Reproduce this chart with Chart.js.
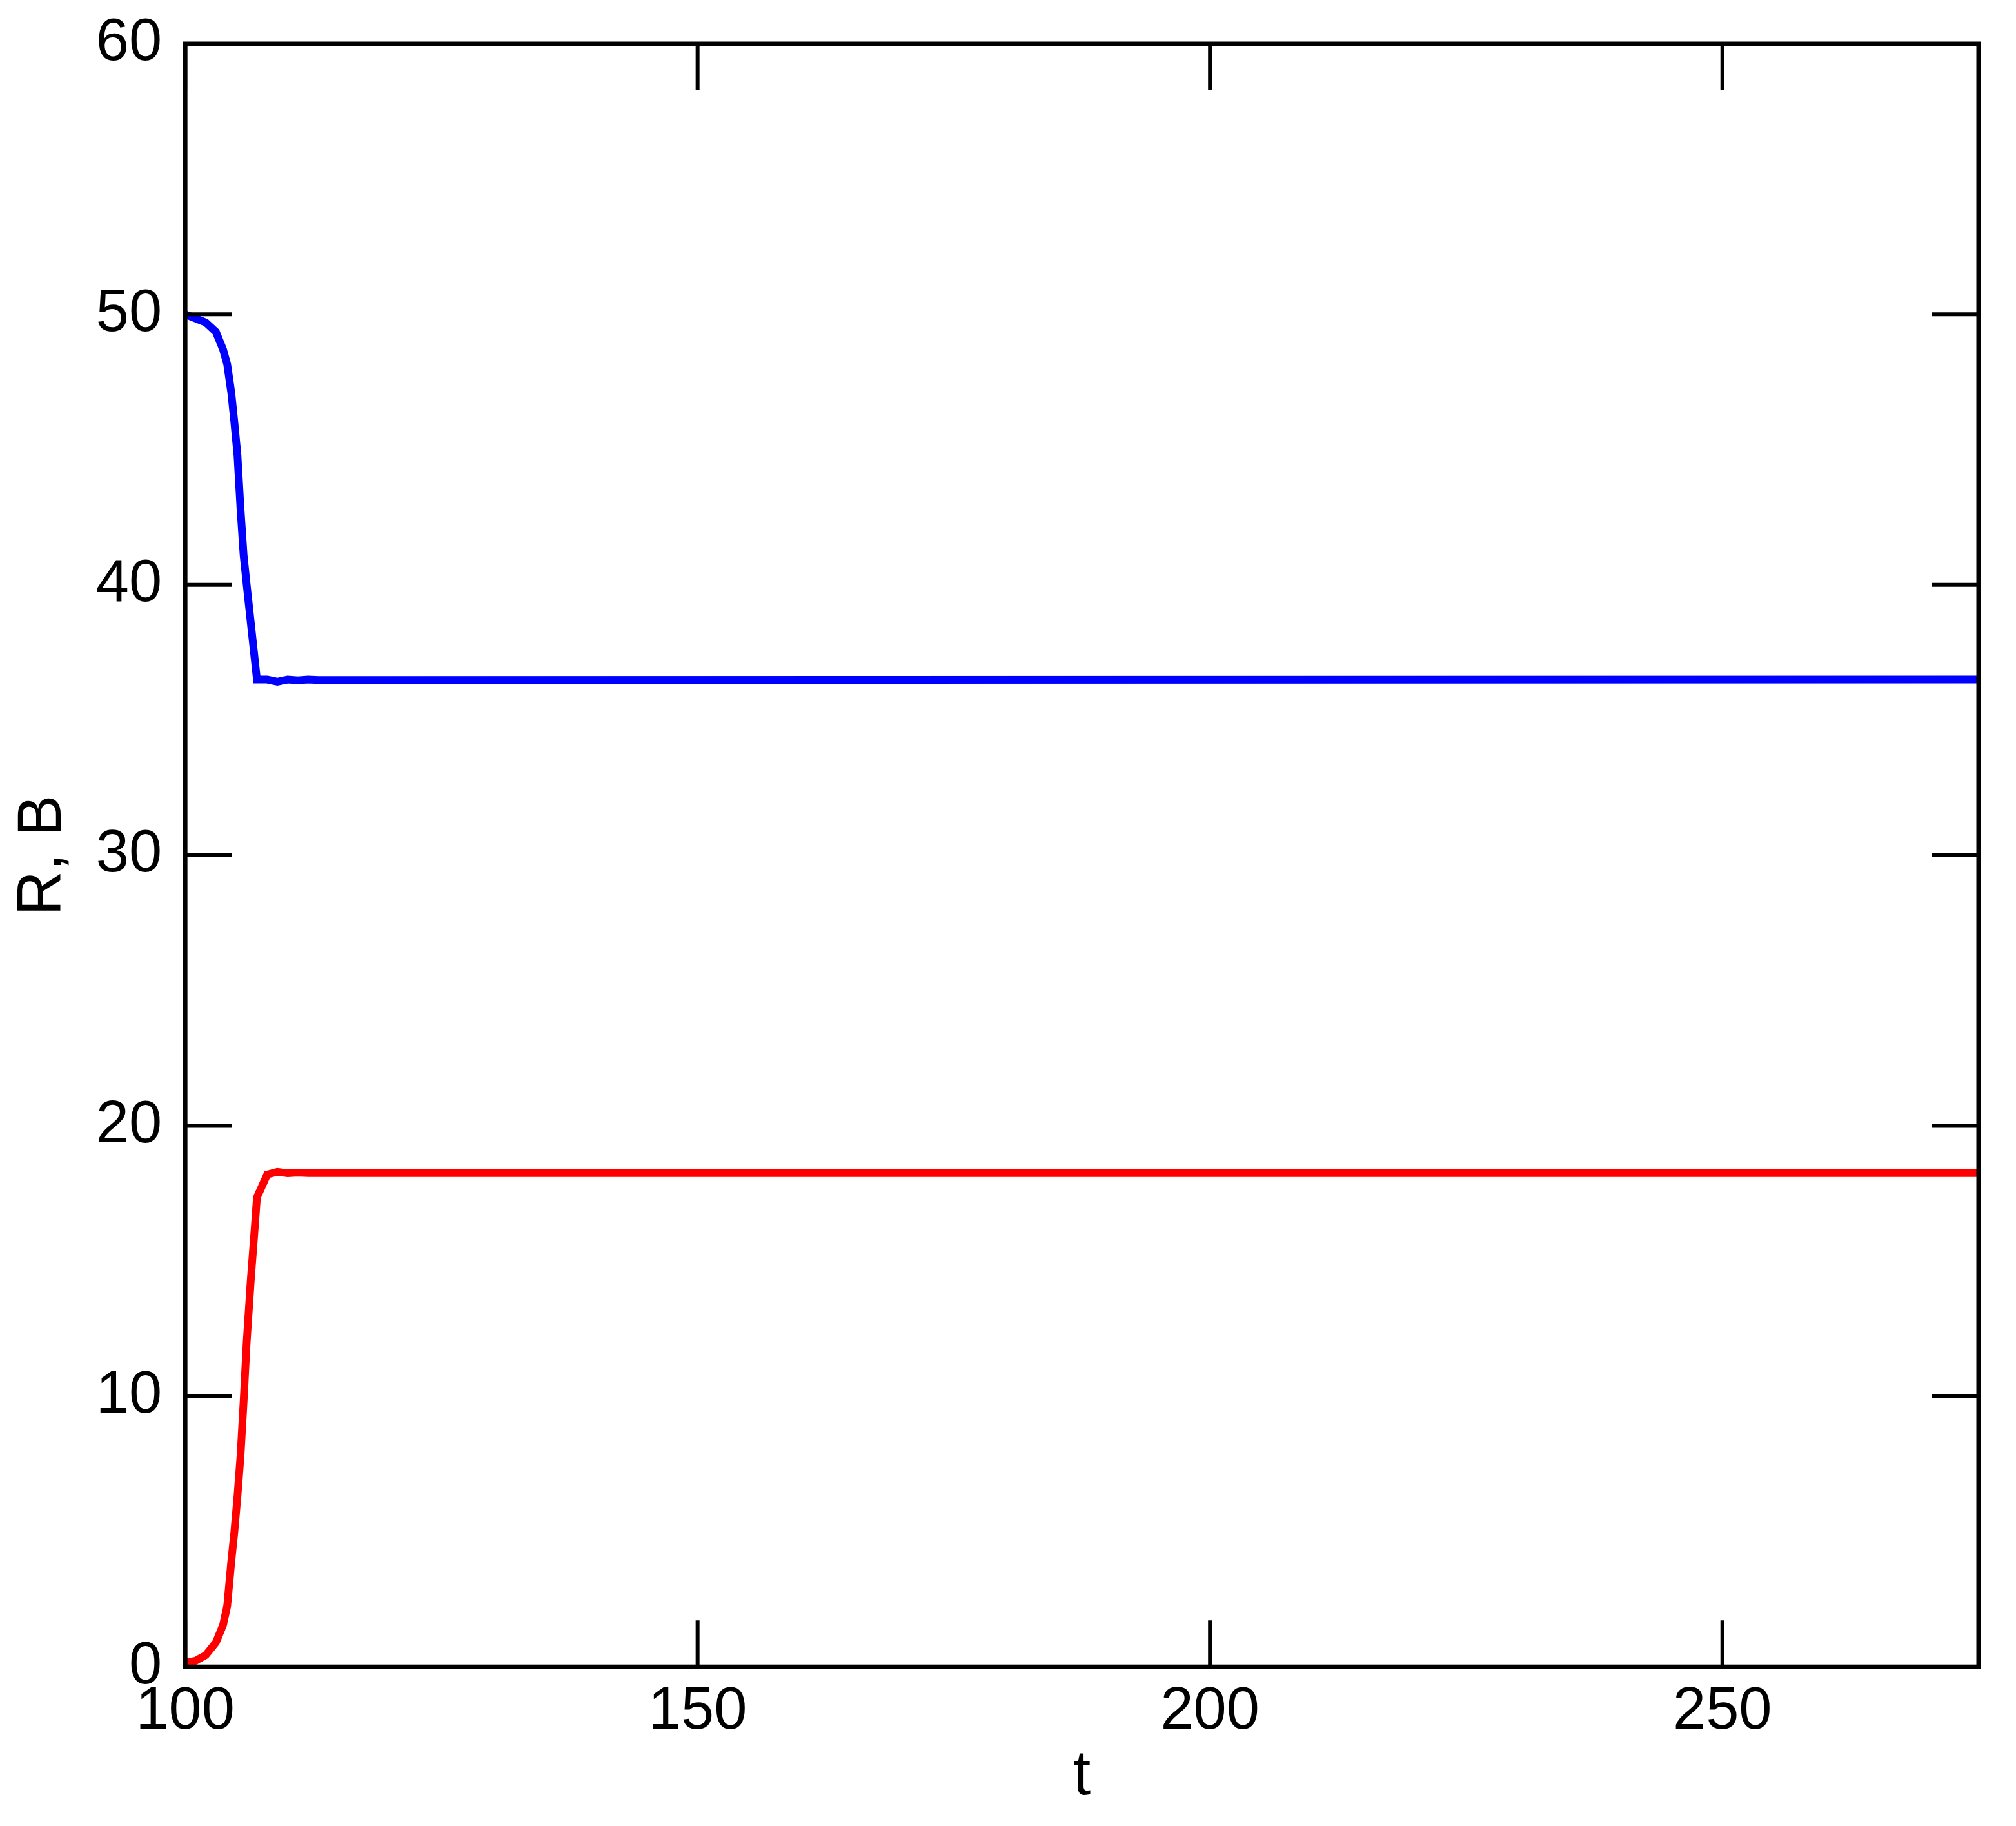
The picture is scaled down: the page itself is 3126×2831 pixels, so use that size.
<!DOCTYPE html>
<html>
<head>
<meta charset="utf-8">
<script src="https://cdn.jsdelivr.net/npm/chart.js@4"></script>
<style>
  html, body { margin: 0; padding: 0; background: #fff; }
  canvas { display: block; }
</style>
</head>
<body>
<canvas id="chart" width="3126" height="2831"></canvas>
<script>
// time points (t)
const tValues = [100, 101, 102, 103, 103.7, 104.1, 104.5, 104.8, 105.1, 105.4, 105.7, 106, 106.4, 106.8, 107, 108, 109, 110, 111, 112, 113, 275];
// B (blue) and R (red)
const bValues = [50.0, 49.85, 49.7, 49.35, 48.7, 48.15, 47.1, 46.0, 44.8, 42.8, 41.1, 40.0, 38.6, 37.2, 36.5, 36.5, 36.42, 36.5, 36.47, 36.5, 36.48, 36.5];
const rValues = [0.15, 0.22, 0.43, 0.9, 1.55, 2.25, 3.9, 5.0, 6.3, 7.8, 9.8, 12.0, 14.3, 16.3, 17.35, 18.2, 18.3, 18.25, 18.27, 18.25, 18.25, 18.25];

const xTicks = [100, 150, 200, 250];
const yTicks = [0, 10, 20, 30, 40, 50, 60];

const toPoints = (xs, ys) => xs.map((x, i) => ({x: x, y: ys[i]}));

// box round the plot + inward ticks on all four sides
const frameTicks = {
  id: 'frameTicks',
  afterDatasetsDraw(chart) {
    const {ctx, chartArea: {left, top, right, bottom}, scales: {x, y}} = chart;
    const len = 72;
    ctx.save();
    ctx.strokeStyle = '#000';
    ctx.lineWidth = 6;
    ctx.beginPath();
    x.ticks.forEach(t => {
      const px = x.getPixelForValue(t.value);
      ctx.moveTo(px, bottom); ctx.lineTo(px, bottom - len);
      ctx.moveTo(px, top); ctx.lineTo(px, top + len);
    });
    y.ticks.forEach(t => {
      const py = y.getPixelForValue(t.value);
      ctx.moveTo(left, py); ctx.lineTo(left + len, py);
      ctx.moveTo(right, py); ctx.lineTo(right - len, py);
    });
    ctx.stroke();
    ctx.lineWidth = 7;
    ctx.strokeRect(left, top, right - left, bottom - top);
    ctx.restore();
  }
};

Chart.defaults.color = '#000';
Chart.defaults.font.family = '"Liberation Sans", Arial, sans-serif';

new Chart(document.getElementById('chart'), {
  type: 'line',
  data: {
    datasets: [{
      label: 'B',
      data: toPoints(tValues, bValues),
      borderColor: '#0000ff',
      borderWidth: 12,
      pointRadius: 0,
      tension: 0,
      fill: false
    }, {
      label: 'R',
      data: toPoints(tValues, rValues),
      borderColor: '#ff0000',
      borderWidth: 12,
      pointRadius: 0,
      tension: 0,
      fill: false
    }]
  },
  options: {
    responsive: false,
    animation: false,
    devicePixelRatio: 1,
    layout: {padding: {left: 0, top: 68, right: 58, bottom: 0}},
    plugins: {legend: {display: false}, tooltip: {enabled: false}},
    scales: {
      x: {
        type: 'linear',
        min: 100,
        max: 275,
        afterBuildTicks: s => { s.ticks = xTicks.map(v => ({value: v})); },
        grid: {display: false, drawTicks: false},
        border: {display: false},
        ticks: {padding: 24, maxRotation: 0, font: {size: 92, lineHeight: 1}},
        title: {display: true, text: 't', font: {size: 98, lineHeight: 0.6}, padding: {top: 1, bottom: 47}}
      },
      y: {
        type: 'linear',
        min: 0,
        max: 60,
        afterBuildTicks: s => { s.ticks = yTicks.map(v => ({value: v})); },
        grid: {display: false, drawTicks: false},
        border: {display: false},
        ticks: {padding: 36, font: {size: 92, lineHeight: 0.6}},
        title: {display: true, text: 'R, B', font: {size: 96, lineHeight: 0.8}, padding: {top: 29, bottom: 7}}
      }
    }
  },
  plugins: [frameTicks]
});
</script>
</body>
</html>
